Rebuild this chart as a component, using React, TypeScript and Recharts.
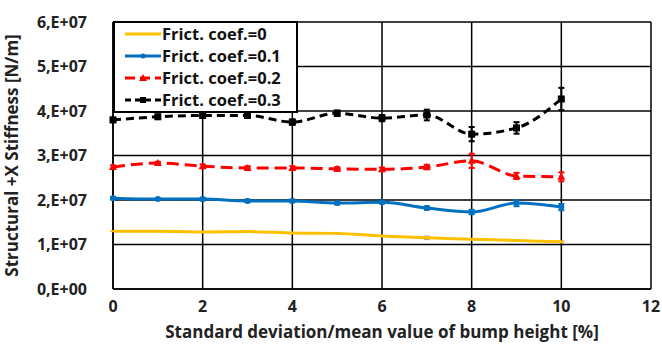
import { LineChart, Line, XAxis, YAxis, CartesianGrid, ErrorBar } from 'recharts'

const deviation = [0, 1, 2, 3, 4, 5, 6, 7, 8, 9, 10]

// stiffness in units of 1E7 N/m
const coef0 = [1.3, 1.3, 1.28, 1.29, 1.26, 1.25, 1.19, 1.15, 1.12, 1.09, 1.06]
const coef01 = [2.04, 2.02, 2.02, 1.98, 1.98, 1.93, 1.95, 1.82, 1.73, 1.93, 1.84]
const coef02 = [2.74, 2.83, 2.76, 2.72, 2.72, 2.7, 2.69, 2.74, 2.88, 2.54, 2.52]
const coef03 = [3.8, 3.87, 3.9, 3.9, 3.75, 3.95, 3.84, 3.91, 3.48, 3.62, 4.27]

const err0 = [0, 0, 0, 0.02, 0, 0.02, 0, 0.04, 0, 0, 0.02]
const err01 = [0.03, 0.02, 0.03, 0.03, 0.03, 0.03, 0.03, 0.04, 0.05, 0.07, 0.07]
const err02 = [0.04, 0.03, 0.04, 0.04, 0.04, 0.04, 0.04, 0.05, 0.16, 0.07, 0.1]
const err03 = [0.05, 0.05, 0.05, 0.05, 0.06, 0.06, 0.07, 0.12, 0.16, 0.13, 0.25]

const xTicks = [0, 2, 4, 6, 8, 10, 12]
const yTicks = [0, 1, 2, 3, 4, 5, 6]
const yTickLabels = ['0,E+00', '1,E+07', '2,E+07', '3,E+07', '4,E+07', '5,E+07', '6,E+07']

const seriesNames = ['Frict. coef.=0', 'Frict. coef.=0.1', 'Frict. coef.=0.2', 'Frict. coef.=0.3']

const data = deviation.map((d, i) => ({
  d,
  c0: coef0[i],
  c1: coef01[i],
  c2: coef02[i],
  c3: coef03[i],
  e0: err0[i],
  e1: err01[i],
  e2: err02[i],
  e3: err03[i],
}))

const FONT = '"Open Sans", sans-serif'

const YELLOW = '#ffc000'
const BLUE = '#0070c0'
const RED = '#ff0000'
const BLACK = '#000000'

function dashDot(props: any) {
  const { cx, cy, index } = props
  return <rect key={index} x={cx - 2.5} y={cy - 1} width={5} height={2} fill={YELLOW} />
}

function circleDot(props: any) {
  const { cx, cy, index } = props
  return <circle key={index} cx={cx} cy={cy} r={3} fill={BLUE} />
}

function triDot(props: any) {
  const { cx, cy, index } = props
  return <polygon key={index} points={`${cx},${cy - 4} ${cx - 4},${cy + 3} ${cx + 4},${cy + 3}`} fill={RED} />
}

function squareDot(props: any) {
  const { cx, cy, index } = props
  return <rect key={index} x={cx - 3.5} y={cy - 3.5} width={7} height={7} fill={BLACK} />
}

const legendItems = [
  { name: seriesNames[0], color: YELLOW, dash: undefined, marker: 'dash' },
  { name: seriesNames[1], color: BLUE, dash: undefined, marker: 'circle' },
  { name: seriesNames[2], color: RED, dash: '10 5', marker: 'tri' },
  { name: seriesNames[3], color: BLACK, dash: '6 4', marker: 'square' },
]

// legend box sits over the top-left corner of the plot area
function LegendBox() {
  return (
    <div
      style={{
        position: 'absolute',
        left: 113,
        top: 21,
        width: 185,
        height: 92,
        boxSizing: 'border-box',
        background: 'white',
        border: '2px solid black',
        padding: '0px 2px 0px 10px',
        fontFamily: FONT,
        fontWeight: 700,
        fontSize: 16.5,
        lineHeight: '22px',
        color: '#111',
        whiteSpace: 'nowrap',
      }}
    >
      {legendItems.map((it) => (
        <div key={it.name} style={{ display: 'flex', alignItems: 'center' }}>
          <svg width={36} height={12} style={{ marginRight: 1, flexShrink: 0 }}>
            <line x1={0} y1={6} x2={36} y2={6} stroke={it.color} strokeWidth={3} strokeDasharray={it.dash} />
            {it.marker === 'circle' && <circle cx={18} cy={6} r={2.5} fill={it.color} />}
            {it.marker === 'tri' && <polygon points="18,2 14,9 22,9" fill={it.color} />}
            {it.marker === 'square' && <rect x={15} y={3} width={6} height={6} fill={it.color} />}
          </svg>
          <span>{it.name}</span>
        </div>
      ))}
    </div>
  )
}

export default function App() {
  return (
    <div style={{ position: 'absolute', left: 0, top: 0, width: 662, height: 345, background: 'white' }}>
      <LineChart width={662} height={345} data={data} margin={{ top: 22, right: 11, bottom: 0, left: 0 }}>
        <CartesianGrid stroke="#000" strokeWidth={1.5} />
        <XAxis
          dataKey="d"
          type="number"
          domain={[0, 12]}
          ticks={xTicks}
          tickLine={false}
          axisLine={{ stroke: '#000', strokeWidth: 1.5 }}
          tickMargin={6}
          height={56}
          tick={{ fill: '#222', fontSize: 16, fontWeight: 700, fontFamily: FONT }}
          label={{
            value: 'Standard deviation/mean value of bump height [%]',
            position: 'insideBottom',
            offset: 7,
            fill: '#222',
            fontSize: 17,
            fontWeight: 700,
            fontFamily: FONT,
          }}
        />
        <YAxis
          type="number"
          domain={[0, 6]}
          ticks={yTicks}
          width={113}
          tickLine={false}
          axisLine={{ stroke: '#000', strokeWidth: 1.5 }}
          tickMargin={20}
          tickFormatter={(v: number) => yTickLabels[yTicks.indexOf(v)]}
          tick={{ fill: '#222', fontSize: 16, fontWeight: 700, fontFamily: FONT }}
          label={{
            value: 'Structural +X Stiffness [N/m]',
            angle: -90,
            position: 'insideLeft',
            offset: 12,
            style: { textAnchor: 'middle' },
            fill: '#222',
            fontSize: 17,
            fontWeight: 700,
            fontFamily: FONT,
          }}
        />
        <Line
          dataKey="c0"
          name={seriesNames[0]}
          type="monotone"
          stroke={YELLOW}
          strokeWidth={3}
          dot={dashDot}
          isAnimationActive={false}
        >
          <ErrorBar dataKey="e0" width={3} stroke="#999" strokeWidth={1} direction="y" />
        </Line>
        <Line
          dataKey="c1"
          name={seriesNames[1]}
          type="monotone"
          stroke={BLUE}
          strokeWidth={3}
          dot={circleDot}
          isAnimationActive={false}
        >
          <ErrorBar dataKey="e1" width={3} stroke={BLUE} strokeWidth={2} direction="y" />
        </Line>
        <Line
          dataKey="c2"
          name={seriesNames[2]}
          type="monotone"
          stroke={RED}
          strokeWidth={3}
          strokeDasharray="12 6"
          dot={triDot}
          isAnimationActive={false}
        >
          <ErrorBar dataKey="e2" width={3} stroke={RED} strokeWidth={2} direction="y" />
        </Line>
        <Line
          dataKey="c3"
          name={seriesNames[3]}
          type="monotone"
          stroke={BLACK}
          strokeWidth={3}
          strokeDasharray="8 5"
          dot={squareDot}
          isAnimationActive={false}
        >
          <ErrorBar dataKey="e3" width={3} stroke={BLACK} strokeWidth={2} direction="y" />
        </Line>
      </LineChart>
      <LegendBox />
    </div>
  )
}
